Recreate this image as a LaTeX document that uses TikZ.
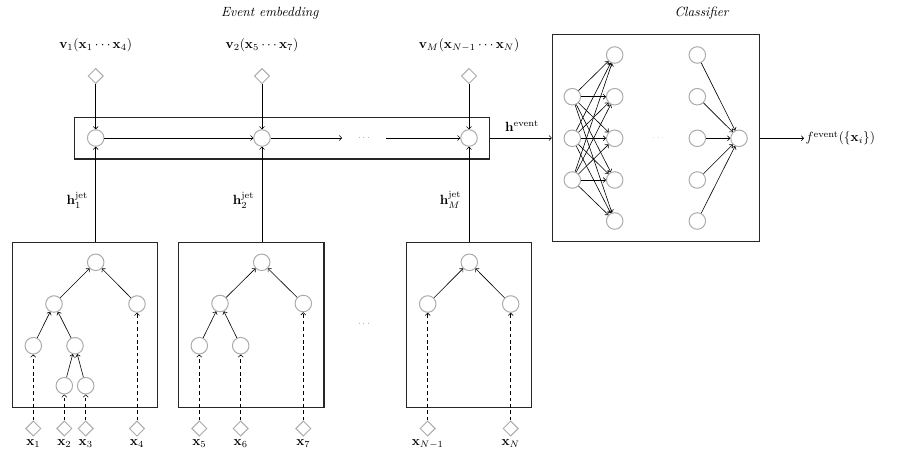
\documentclass[tikz,border=0pt]{standalone}
\usetikzlibrary{shapes.geometric,fit,arrows.meta}
\begin{document}
\begin{tikzpicture}[x=0.75pt,y=-0.75pt,
  neuron/.style={circle,draw=black!33,line width=0.75pt,minimum size=12.4pt,inner sep=0pt},
  inp/.style={diamond,draw=black!33,line width=0.75pt,minimum width=11.5pt,minimum height=11.5pt,inner sep=0pt},
  frame/.style={draw=black!85,line width=0.8pt,inner sep=0pt},
  arr/.style={-{To[length=2.2pt,width=4pt]},line width=0.45pt,black},
  darr/.style={arr,dash pattern=on 2.6pt off 2.2pt},
  lab/.style={inner sep=1pt}]
\useasboundingbox (0,0) rectangle (898,455);

% titles
\node[lab] (tev) at (270,13) {\textit{Event embedding}};
\node[lab] (tcl) at (702,13) {\textit{Classifier}};

% event embedding
\coordinate (eb1) at (74.7,117.3);
\coordinate (eb2) at (489.3,159);
\node[frame,fit=(eb1)(eb2)] (ebox) {};
\node[neuron] (e1) at (95.7,138) {};
\node[neuron] (e2) at (262,138) {};
\node[neuron] (e3) at (469,138) {};
\coordinate (ec1) at (342,138);
\coordinate (ec2) at (386,138);
\node[lab] (edots) at (364,138) {\tiny$\cdots$};
\draw[arr] (e1) -- (e2);
\draw[arr] (e2) -- (ec1);
\draw[arr] (ec2) -- (e3);

\node[inp] (v1) at (95.7,76) {};
\node[inp] (v2) at (262,76) {};
\node[inp] (v3) at (469,76) {};
\node[lab] (lv1) at (95.7,45) {$\mathbf{v}_1(\mathbf{x}_1\cdots\mathbf{x}_4)$};
\node[lab] (lv2) at (262,45) {$\mathbf{v}_2(\mathbf{x}_5\cdots\mathbf{x}_7)$};
\node[lab] (lv3) at (469,45) {$\mathbf{v}_M(\mathbf{x}_{N-1}\cdots\mathbf{x}_N)$};
\draw[arr] (v1) -- (e1);
\draw[arr] (v2) -- (e2);
\draw[arr] (v3) -- (e3);

% classifier
\coordinate (cb1) at (552.3,34.3);
\coordinate (cb2) at (759.5,241.7);
\node[frame,fit=(cb1)(cb2)] (cbox) {};
\draw[arr] (ebox.east |- e3) -- (cbox.west |- e3);
\node[lab] (hev) at (522,126) {$\mathbf{h}^{\mathrm{event}}$};

\foreach \i/\y in {1/96.7,2/138.3,3/180} \node[neuron] (a\i) at (572.3,\y) {};
\foreach \i/\y in {1/55,2/96.7,3/138.3,4/180,5/221} {
  \node[neuron] (b\i) at (614.7,\y) {};
  \node[neuron] (c\i) at (697.3,\y) {};
}
\node[neuron] (out) at (739,138.3) {};
\node[lab] (cdots) at (658.3,138.3) {\color{black!40}\tiny$\cdots$};
\foreach \i in {1,2,3} \foreach \j in {1,...,5} \draw[arr] (a\i) -- (b\j);
\foreach \j in {1,...,5} \draw[arr] (c\j) -- (out);
\node[lab,anchor=west] (fout) at (804,138.3) {$f^{\mathrm{event}}(\{\mathbf{x}_i\})$};
\draw[arr] (cbox.east |- out) -- (fout.west);

% jet boxes
\coordinate (j1a) at (12.3,242.3); \coordinate (j1b) at (157.7,407.7);
\coordinate (j2a) at (178.3,242.3); \coordinate (j2b) at (324,407.7);
\coordinate (j3a) at (406.7,242.3); \coordinate (j3b) at (531.7,407.7);
\node[frame,fit=(j1a)(j1b)] (jb1) {};
\node[frame,fit=(j2a)(j2b)] (jb2) {};
\node[frame,fit=(j3a)(j3b)] (jb3) {};
\draw[arr] (e1 |- jb1.north) -- (e1);
\draw[arr] (e2 |- jb2.north) -- (e2);
\draw[arr] (e3 |- jb3.north) -- (e3);
\node[lab] (hj1) at (77.3,200) {$\mathbf{h}^{\mathrm{jet}}_1$};
\node[lab] (hj2) at (243.5,200) {$\mathbf{h}^{\mathrm{jet}}_2$};
\node[lab] (hj3) at (450.5,200) {$\mathbf{h}^{\mathrm{jet}}_M$};
\node[lab] (jdots) at (364,324.3) {\tiny$\cdots$};

% tree 1
\node[neuron] (r1) at (95.7,262.3) {};
\node[neuron] (p1) at (54,304) {};
\node[neuron] (q1) at (137,304) {};
\node[neuron] (s1) at (33.3,345.7) {};
\node[neuron] (t1) at (75,345.7) {};
\node[neuron] (u1) at (64.3,385.7) {};
\node[neuron] (w1) at (85.7,385.7) {};
\draw[arr] (p1) -- (r1);
\draw[arr] (q1) -- (r1);
\draw[arr] (s1) -- (p1);
\draw[arr] (t1) -- (p1);
\draw[arr] (u1) -- (t1);
\draw[arr] (w1) -- (t1);
\node[inp] (x1) at (33.3,428.5) {};
\node[inp] (x2) at (64.3,428.5) {};
\node[inp] (x3) at (85.7,428.5) {};
\node[inp] (x4) at (137,428.5) {};
\draw[darr] (x1) -- (s1);
\draw[darr] (x2) -- (u1);
\draw[darr] (x3) -- (w1);
\draw[darr] (x4) -- (q1);

% tree 2
\node[neuron] (r2) at (261.7,262.3) {};
\node[neuron] (p2) at (220,303.5) {};
\node[neuron] (q2) at (303.3,303.5) {};
\node[neuron] (s2) at (199.3,345.7) {};
\node[neuron] (t2) at (240.7,345.7) {};
\draw[arr] (p2) -- (r2);
\draw[arr] (q2) -- (r2);
\draw[arr] (s2) -- (p2);
\draw[arr] (t2) -- (p2);
\node[inp] (x5) at (199.3,428.5) {};
\node[inp] (x6) at (240.7,428.5) {};
\node[inp] (x7) at (303.3,428.5) {};
\draw[darr] (x5) -- (s2);
\draw[darr] (x6) -- (t2);
\draw[darr] (x7) -- (q2);

% tree 3
\node[neuron] (r3) at (469.3,262.3) {};
\node[neuron] (p3) at (427.7,304) {};
\node[neuron] (q3) at (510.7,304) {};
\draw[arr] (p3) -- (r3);
\draw[arr] (q3) -- (r3);
\node[inp] (x8) at (427.7,428.5) {};
\node[inp] (x9) at (510.7,428.5) {};
\draw[darr] (x8) -- (p3);
\draw[darr] (x9) -- (q3);

% input labels
\foreach \n/\xx/\t in {l1/33.3/\mathbf{x}_1, l2/64.3/\mathbf{x}_2, l3/85.7/\mathbf{x}_3, l4/137/\mathbf{x}_4,
  l5/199.3/\mathbf{x}_5, l6/240.7/\mathbf{x}_6, l7/303.3/\mathbf{x}_7, l8/427.7/\mathbf{x}_{N-1}, l9/510.7/\mathbf{x}_N}
  \node[lab,anchor=base] (\n) at (\xx,445) {$\t$};
\end{tikzpicture}
\end{document}
